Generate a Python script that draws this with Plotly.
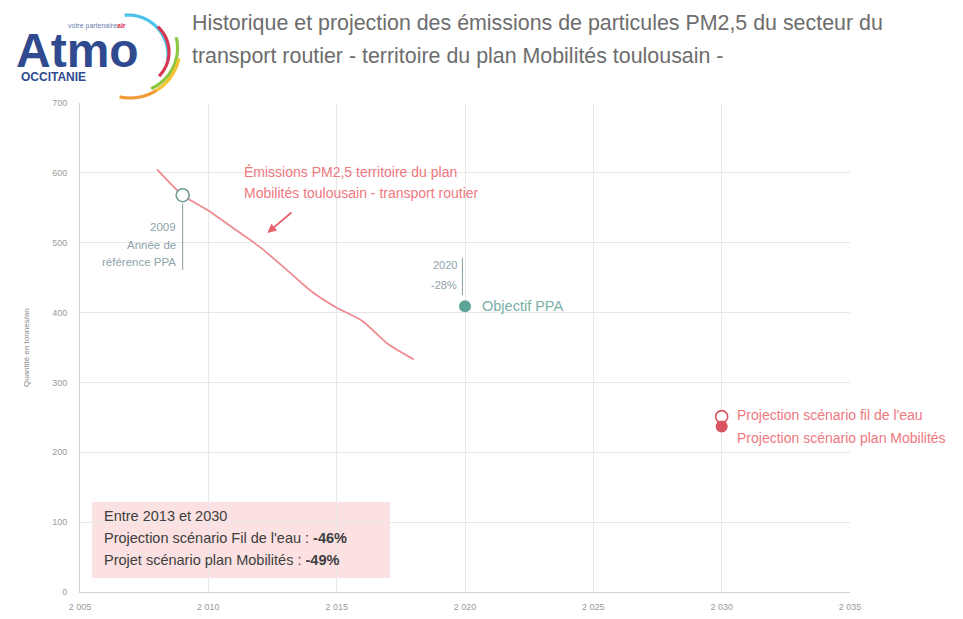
import math
import plotly.graph_objects as go

# ---------------- data ----------------
hist_years = [2008, 2009, 2010, 2011, 2012, 2013, 2014, 2015, 2016, 2017, 2018]
hist_values = [605, 568, 546, 520, 494, 463, 431, 407, 388, 355, 333]

ref_year = [2009]
ref_value = [568]

objectif_year = [2020]
objectif_value = [409]

proj_year = [2030]
proj_fil_eau = [251]
proj_mobilites = [237]

x_ticks = [2005, 2010, 2015, 2020, 2025, 2030, 2035]
x_ticklabels = ["2 005", "2 010", "2 015", "2 020", "2 025", "2 030", "2 035"]
y_ticks = [0, 100, 200, 300, 400, 500, 600, 700]

FONT = "Liberation Sans, Arial, sans-serif"
RED_LINE = "#ee8b93"
RED_TXT = "#ee7880"
RED_PT = "#d9545f"
TEAL = "#5fa597"
TEAL_TXT = "#79b0a8"
GREYBLUE = "#8ea3aa"

fig = go.Figure()

fig.add_trace(go.Scatter(
    x=hist_years, y=hist_values, mode="lines",
    line=dict(color=RED_LINE, width=1.8, shape="spline", smoothing=0.6),
    hoverinfo="x+y", showlegend=False))

fig.add_trace(go.Scatter(
    x=ref_year, y=ref_value, mode="markers",
    marker=dict(size=13, color="white", line=dict(color="#6f9c96", width=1.6)),
    showlegend=False))

fig.add_trace(go.Scatter(
    x=objectif_year, y=objectif_value, mode="markers",
    marker=dict(size=12, color=TEAL), showlegend=False))

fig.add_trace(go.Scatter(
    x=proj_year, y=proj_fil_eau, mode="markers",
    marker=dict(size=12, color="white", line=dict(color=RED_PT, width=1.6)),
    showlegend=False))

fig.add_trace(go.Scatter(
    x=proj_year, y=proj_mobilites, mode="markers",
    marker=dict(size=12, color=RED_PT), showlegend=False))

# ---------------- geometry (screen px; page body has an 8px margin) ----------------
W, H = 963, 619
OFF = 8
SL, SR, ST, SB = 80, 850, 103, 592   # plot area on screen
L, T = SL - OFF, ST - OFF
R, B = W - (SR - OFF), H - (SB - OFF)


def px(x):
    return (x - SL) / (SR - SL)


def py(y):
    return (SB - y) / (SB - ST)


def arc_path(cx, cy, r, a0, a1, n=40):
    pts = []
    for i in range(n + 1):
        a = math.radians(a0 + (a1 - a0) * i / n)
        pts.append((px(cx + r * math.cos(a)), py(cy - r * math.sin(a))))
    return "M " + " L ".join(f"{a:.5f},{b:.5f}" for a, b in pts)


shapes = []
# logo arcs
for (cx, cy, r, a0, a1, col) in [
    (128, 55, 40, 95, -8, "#4cc3ea"),
    (135, 52, 34, 48, -45, "#d7344f"),
    (133, 48, 44.5, 14, -66, "#8cc63f"),
    (130, 48, 50, -12, -58, "#f2c230"),
    (130, 48, 50, -58, -102, "#f29a36"),
]:
    shapes.append(dict(type="path", xref="paper", yref="paper",
                       path=arc_path(cx, cy, r, a0, a1),
                       line=dict(color=col, width=3.2), layer="above"))

# vertical marker lines
shapes.append(dict(type="line", xref="x", yref="y", x0=2009, x1=2009, y0=461, y1=556,
                   line=dict(color="#8c9c9c", width=1)))
shapes.append(dict(type="line", xref="x", yref="y", x0=2019.9, x1=2019.9, y0=425, y1=478,
                   line=dict(color="#8c9c9c", width=1)))
# summary box
shapes.append(dict(type="rect", xref="x", yref="y", x0=2005.47, x1=2017.08, y0=20, y1=129,
                   fillcolor="#fbe1e1", line=dict(width=0), layer="below"))

annotations = []


def note(x, y, text, size, color, xanchor="left", xref="x", yref="y", **kw):
    annotations.append(dict(xref=xref, yref=yref, x=x, y=y, xanchor=xanchor, yanchor="middle",
                            text=text, showarrow=False,
                            font=dict(family=FONT, size=size, color=color), **kw))


# title
note(px(190), py(23), "Historique et projection des émissions de particules PM2,5 du secteur du",
     21.4, "#6d6d6d", xref="paper", yref="paper")
note(px(190), py(56), "transport routier - territoire du plan Mobilités toulousain -",
     21.4, "#6d6d6d", xref="paper", yref="paper")
# logo text
note(px(15), py(50), "<b>Atmo</b>", 48, "#2f4a8e", xref="paper", yref="paper",
     height=38, valign="middle", borderpad=0)
note(px(67), py(26), "votre partenaire<b><span style='color:#d7344f'>air</span></b>", 7, "#6a7fb0",
     xref="paper", yref="paper", borderpad=0)
note(px(20), py(77), "<b>OCCITANIE</b>", 12, "#2f4a8e", xref="paper", yref="paper",
     height=13, borderpad=0)
# y axis title
note(px(26), py(348), "Quantité en tonnes/an", 8, "#8a8a8a", xanchor="center",
     xref="paper", yref="paper", textangle=-90)
# main line label + arrow
note(2011.3, 601, "Émissions PM2,5 territoire du plan", 14, RED_TXT)
note(2011.3, 571, "Mobilités toulousain - transport routier", 14, RED_TXT)
annotations.append(dict(xref="x", yref="y", axref="x", ayref="y", x=2012.3, y=514, ax=2013.3, ay=545,
                        text="", showarrow=True, arrowhead=2, arrowsize=1, arrowwidth=1.8,
                        arrowcolor="#e8626c"))
# reference 2009
note(2009, 522, "2009", 11.5, GREYBLUE, xanchor="right", xshift=-5)
note(2009, 497, "Année de", 11.5, GREYBLUE, xanchor="right", xshift=-5)
note(2009, 472, "référence PPA", 11.5, GREYBLUE, xanchor="right", xshift=-5)
# objective 2020
note(2020, 468, "2020", 11, GREYBLUE, xanchor="right", xshift=-6)
note(2020, 440, "-28%", 11, GREYBLUE, xanchor="right", xshift=-6)
note(2020, 409, "Objectif PPA", 14.5, TEAL_TXT, xshift=15)
# projections
note(2030, 254, "Projection scénario fil de l'eau", 14, RED_TXT, xshift=13)
note(2030, 221, "Projection scénario plan Mobilités", 14, RED_TXT, xshift=13)
# summary box text
note(2005.85, 109, "Entre 2013 et 2030", 14.5, "#3e3e3e")
note(2005.85, 77, "Projection scénario Fil de l'eau : <b>-46%</b>", 14.5, "#3e3e3e")
note(2005.85, 46, "Projet scénario plan Mobilités : <b>-49%</b>", 14.5, "#3e3e3e")

fig.update_layout(
    width=W, height=H, autosize=False,
    margin=dict(l=L, r=R, t=T, b=B, autoexpand=False),
    paper_bgcolor="white", plot_bgcolor="white",
    font=dict(family=FONT, color="#999"),
    showlegend=False,
    shapes=shapes, annotations=annotations,
    xaxis=dict(range=[2005, 2035], tickvals=x_ticks, ticktext=x_ticklabels,
               showgrid=True, gridcolor="#e8e8e8", gridwidth=1, zeroline=False,
               showline=True, linecolor="#d2d2d2", linewidth=1, automargin=False,
               ticks="", ticklabelstandoff=6,
               tickfont=dict(family=FONT, size=9, color="#9a9a9a")),
    yaxis=dict(range=[0, 700], tickvals=y_ticks,
               showgrid=True, gridcolor="#e8e8e8", gridwidth=1, zeroline=False,
               showline=True, linecolor="#d2d2d2", linewidth=1, automargin=False,
               ticks="", ticklabelstandoff=10,
               tickfont=dict(family=FONT, size=9, color="#9a9a9a")),
)

fig.write_html("out.html")
